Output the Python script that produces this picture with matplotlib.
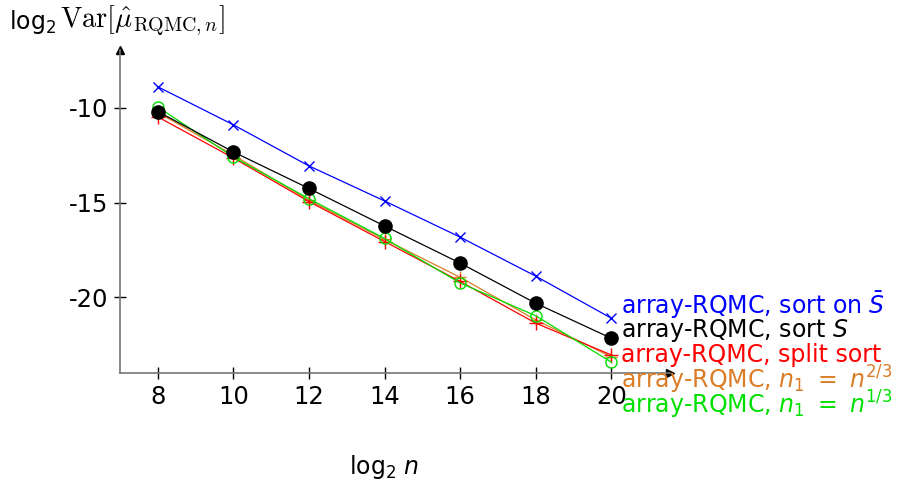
import matplotlib.pyplot as plt
import numpy as np

plt.rcParams['font.family'] = ['DejaVu Sans']
plt.rcParams['mathtext.fontset'] = 'dejavusans'

log_n = [8, 10, 12, 14, 16, 18, 20]
sort_sbar = [-8.89, -10.9, -13.07, -14.92, -16.83, -18.89, -21.11]
sort_s = [-10.2, -12.33, -14.26, -16.24, -18.2, -20.32, -22.17]
split_sort = [-10.48, -12.65, -14.95, -17.06, -19.17, -21.37, -23.05]
n1_23 = [-10.25, -12.5, -14.88, -16.95, -18.95, -21.2, -23.15]
n1_13 = [-9.96, -12.6, -14.8, -16.9, -19.25, -20.98, -23.43]

orange = '#DB7C26'
green = '#00E000'

W, H = 911, 486
fig = plt.figure(figsize=(W / 100, H / 100), dpi=100)
ax = fig.add_axes([120 / W, (H - 373) / H, 550 / W, 323 / H])
ax.set_xlim(7, 21.55)
ax.set_ylim(-24, -6.95)

lw = 0.9
ax.plot(log_n, n1_23, color=orange, lw=lw, marker='+', ms=9, mew=1.0, zorder=3)
ax.plot(log_n, split_sort, color='red', lw=lw, marker='+', ms=10, mew=1.0, zorder=4)
ax.plot(log_n, n1_13, color=green, lw=lw, marker='o', ms=8, mfc='none', mew=1.0, zorder=5)
ax.plot(log_n, sort_s, color='black', lw=lw, marker='o', ms=9.5, zorder=6)
ax.plot(log_n, sort_sbar, color='blue', lw=lw, marker='x', ms=7, mew=1.0, zorder=7)

for s in ['top', 'right']:
    ax.spines[s].set_visible(False)
for s in ['left', 'bottom']:
    ax.spines[s].set_color('#777777')
    ax.spines[s].set_linewidth(1.2)

ax.set_xticks(log_n)
ax.set_yticks([-10, -15, -20])
ax.set_yticklabels(['-10', '-15', '-20'])
ax.tick_params(direction='inout', length=9, width=1.0, color='black',
               labelsize=17.5, pad=4)

# arrow heads
ax.plot([1], [0], marker='>', color='black', ms=6, transform=ax.transAxes, clip_on=False)
ax.plot([0], [1], marker='^', color='black', ms=6, transform=ax.transAxes, clip_on=False)

fig.text(9 / W, 1 - 22 / H, 'log$_2$', fontsize=17, va='center', ha='left')
fig.text(60 / W, 1 - 21 / H, r'$\mathrm{Var}[\hat{\mu}_{\mathrm{RQMC},n}]$',
         fontsize=20.5, va='center', ha='left', math_fontfamily='cm')
fig.text(384 / W, 1 - 467 / H, r'log$_2$ $n$', fontsize=17, va='center', ha='center')

labels = [
    (r'array-RQMC, sort on $\bar{S}$', 'blue', 305),
    (r'array-RQMC, sort $S$', 'black', 330),
    ('array-RQMC, split sort', 'red', 355),
    (r'array-RQMC, $n_1\ =\ n^{2/3}$', orange, 380),
    (r'array-RQMC, $n_1\ =\ n^{1/3}$', green, 405),
]
for txt, c, yp in labels:
    fig.text(621 / W, 1 - yp / H, txt, color=c, fontsize=17, va='center', ha='left')

fig.savefig('out.png', dpi=100)
